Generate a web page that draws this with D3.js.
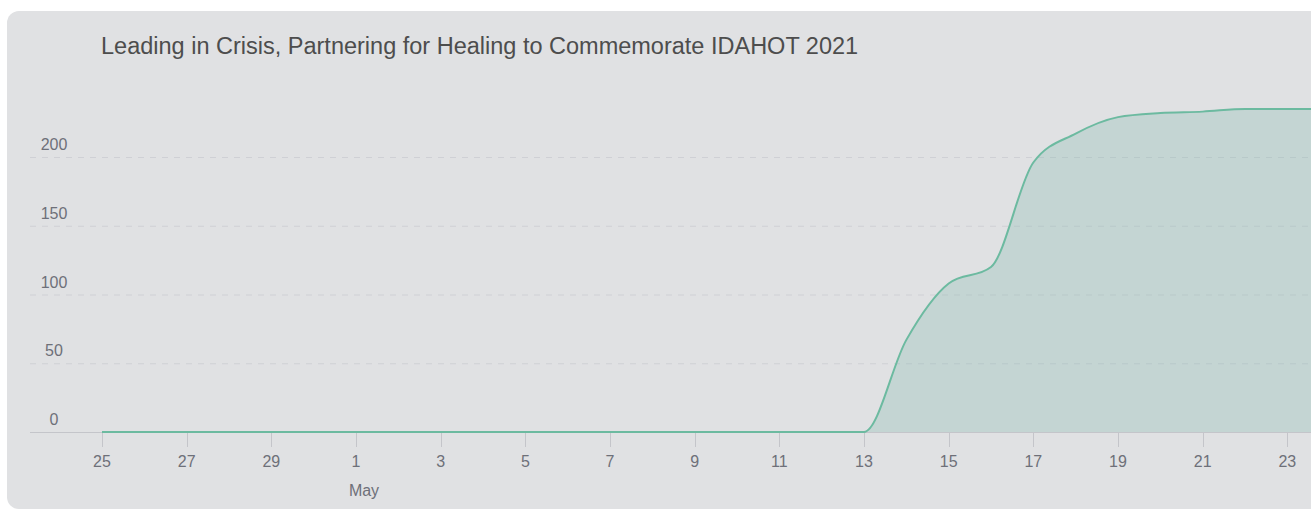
<!DOCTYPE html>
<html>
<head>
<meta charset="utf-8">
<script src="https://cdn.jsdelivr.net/npm/d3@7"></script>
<style>
  body { margin: 0; background: #fff; }
  svg { display: block; font-family: "Liberation Sans", Arial, sans-serif; }
</style>
</head>
<body>
<div id="container"></div>
<script>
var width = 1311;
var height = 511;

var title = "Leading in Crisis, Partnering for Healing to Commemorate IDAHOT 2021";

// cumulative count per day, 2021-04-25 .. 2021-05-24
var dates = [
  "2021-04-25", "2021-04-26", "2021-04-27", "2021-04-28", "2021-04-29", "2021-04-30",
  "2021-05-01", "2021-05-02", "2021-05-03", "2021-05-04", "2021-05-05", "2021-05-06",
  "2021-05-07", "2021-05-08", "2021-05-09", "2021-05-10", "2021-05-11", "2021-05-12",
  "2021-05-13", "2021-05-14", "2021-05-15", "2021-05-16", "2021-05-17", "2021-05-18",
  "2021-05-19", "2021-05-20", "2021-05-21", "2021-05-22", "2021-05-23", "2021-05-24"
];
var values = [
  0, 0, 0, 0, 0, 0,
  0, 0, 0, 0, 0, 0,
  0, 0, 0, 0, 0, 0,
  0, 67, 108, 120, 196, 217,
  229, 232, 233, 235, 235, 235
];
var yTicks = [0, 50, 100, 150, 200];

var parse = d3.timeParse("%Y-%m-%d");
var data = dates.map(function(d, i) {
  return { date: parse(d), value: values[i] };
});

var svg = d3.select("#container").append("svg")
  .attr("width", width).attr("height", height);

// panel
svg.append("rect")
  .attr("x", 7).attr("y", 11)
  .attr("width", width + 20).attr("height", 498)
  .attr("rx", 12).attr("ry", 12)
  .attr("fill", "#e0e1e3");

var x = d3.scaleTime()
  .domain([parse("2021-04-25"), parse("2021-05-13")])
  .range([102, 864]);
var y = d3.scaleLinear()
  .domain([0, 200])
  .range([432, 157]);

svg.append("text")
  .attr("x", 101).attr("y", 54)
  .attr("font-size", 23.5)
  .attr("fill", "#4d4d4d")
  .text(title);

// grid lines
var grid = svg.append("g");
grid.selectAll("line")
  .data(yTicks.filter(function(d) { return d > 0; }))
  .enter().append("line")
  .attr("x1", 30).attr("x2", width)
  .attr("y1", function(d) { return y(d) + 0.5; })
  .attr("y2", function(d) { return y(d) + 0.5; })
  .attr("stroke", "#cfd0d5")
  .attr("stroke-dasharray", "6,6");

svg.append("g").selectAll("text")
  .data(yTicks)
  .enter().append("text")
  .attr("x", 54)
  .attr("y", function(d) { return y(d) - 7; })
  .attr("text-anchor", "middle")
  .attr("font-size", 16)
  .attr("fill", "#6e7079")
  .text(function(d) { return d; });

// x axis
svg.append("line")
  .attr("x1", 30).attr("x2", width)
  .attr("y1", 432.5).attr("y2", 432.5)
  .attr("stroke", "#c4c5ca");

var xTicks = d3.timeDay.range(parse("2021-04-25"), parse("2021-05-24"), 2);
var xa = svg.append("g");
xa.selectAll("line")
  .data(xTicks)
  .enter().append("line")
  .attr("x1", function(d) { return Math.round(x(d)) + 0.5; })
  .attr("x2", function(d) { return Math.round(x(d)) + 0.5; })
  .attr("y1", 433).attr("y2", 447)
  .attr("stroke", "#c4c5ca");
xa.selectAll("text")
  .data(xTicks)
  .enter().append("text")
  .attr("x", function(d) { return x(d); })
  .attr("y", 467)
  .attr("text-anchor", "middle")
  .attr("font-size", 16)
  .attr("fill", "#6e7079")
  .text(d3.timeFormat("%-d"));

svg.append("text")
  .attr("x", x(parse("2021-05-01")) + 8)
  .attr("y", 496)
  .attr("text-anchor", "middle")
  .attr("font-size", 16)
  .attr("fill", "#6e7079")
  .text("May");

// area + line
var area = d3.area()
  .x(function(d) { return x(d.date); })
  .y0(y(0))
  .y1(function(d) { return y(d.value); })
  .curve(d3.curveMonotoneX);
var line = d3.line()
  .x(function(d) { return x(d.date); })
  .y(function(d) { return y(d.value); })
  .curve(d3.curveMonotoneX);

svg.append("path")
  .datum(data)
  .attr("d", area)
  .attr("fill", "#83b9b1")
  .attr("fill-opacity", 0.3);

svg.append("path")
  .datum(data)
  .attr("d", line)
  .attr("fill", "none")
  .attr("stroke", "#6cbaa0")
  .attr("stroke-width", 2);
</script>
</body>
</html>
